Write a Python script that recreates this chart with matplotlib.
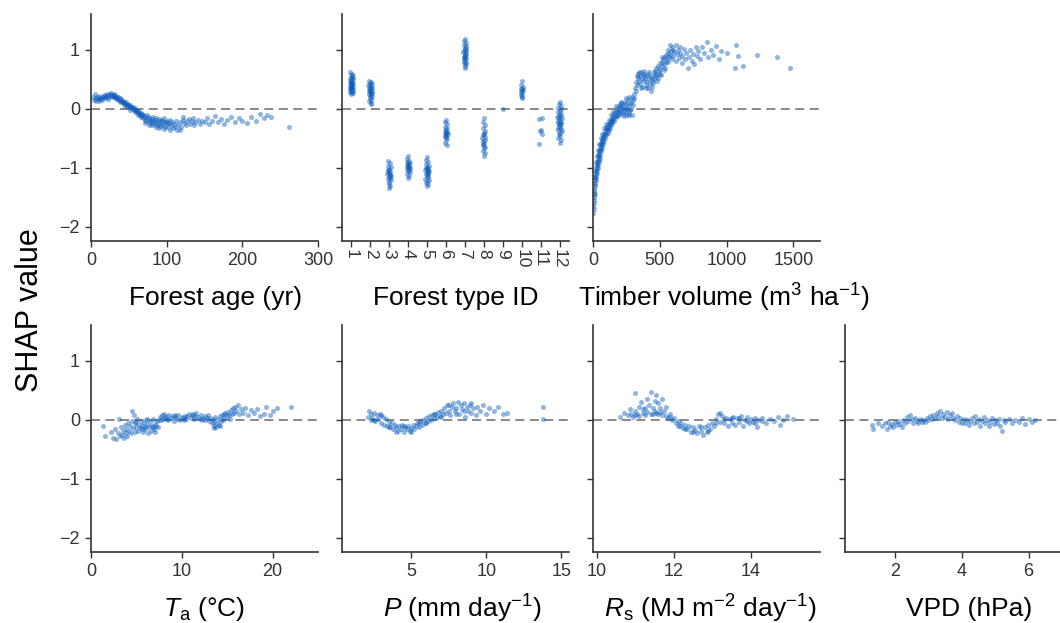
import matplotlib
matplotlib.use("Agg")
import matplotlib.pyplot as plt

plt.rcParams['font.family'] = ['Liberation Sans', 'DejaVu Sans']
plt.rcParams['mathtext.fontset'] = 'custom'
plt.rcParams['mathtext.rm'] = 'Liberation Sans'
plt.rcParams['mathtext.it'] = 'Liberation Sans:italic'

# SHAP dependence values: (feature value, SHAP value)
forest_age = [
    (3, 0.2), (4, 0.15), (5, 0.25), (6, 0.18), (7, 0.13), (8, 0.2), (9, 0.16), (10, 0.22),
    (11, 0.14), (12, 0.19), (13, 0.17), (14, 0.21), (15, 0.15), (16, 0.2), (17, 0.24), (18, 0.18),
    (19, 0.22), (20, 0.2), (21, 0.25), (22, 0.17), (23, 0.23), (24, 0.21), (25, 0.26), (26, 0.22),
    (27, 0.27), (28, 0.24), (29, 0.2), (30, 0.25), (31, 0.22), (32, 0.24), (33, 0.19), (34, 0.21),
    (35, 0.17), (36, 0.2), (37, 0.15), (38, 0.18), (39, 0.13), (40, 0.16), (41, 0.11), (42, 0.14),
    (43, 0.1), (44, 0.12), (45, 0.08), (46, 0.11), (47, 0.06), (48, 0.09), (49, 0.05), (50, 0.07),
    (51, 0.03), (52, 0.06), (53, 0.02), (54, 0.04), (55, 0.0), (56, 0.03), (57, -0.02), (58, 0.01),
    (59, -0.04), (60, -0.01), (61, -0.06), (62, -0.03), (63, -0.08), (64, -0.05), (65, -0.1),
    (66, -0.07), (67, -0.12), (68, -0.09), (69, -0.15), (70, -0.11), (71, -0.18), (72, -0.13),
    (73, -0.2), (74, -0.1), (75, -0.16), (76, -0.22), (77, -0.14), (78, -0.19), (79, -0.24),
    (80, -0.17), (81, -0.21), (82, -0.13), (83, -0.25), (84, -0.18), (85, -0.22), (86, -0.15),
    (87, -0.27), (88, -0.2), (89, -0.24), (90, -0.17), (91, -0.29), (92, -0.21), (93, -0.25),
    (94, -0.19), (95, -0.28), (96, -0.22), (97, -0.16), (98, -0.3), (99, -0.23), (100, -0.26),
    (101, -0.2), (102, -0.31), (103, -0.24), (104, -0.18), (106, -0.28), (107, -0.22), (108, -0.33),
    (110, -0.25), (112, -0.2), (113, -0.35), (115, -0.27), (117, -0.22), (119, -0.3), (121, -0.19),
    (123, -0.24), (125, -0.28), (127, -0.21), (129, -0.17), (131, -0.25), (133, -0.2), (136, -0.27),
    (138, -0.22), (141, -0.18), (144, -0.26), (147, -0.2), (150, -0.23), (153, -0.15), (156, -0.25),
    (160, -0.2), (164, -0.12), (168, -0.22), (172, -0.17), (176, -0.26), (180, -0.19), (185, -0.13),
    (190, -0.22), (195, -0.16), (200, -0.2), (206, -0.24), (212, -0.14), (218, -0.2), (224, -0.08),
    (229, -0.15), (233, -0.1), (238, -0.14), (262, -0.3),
    (30, 0.2), (34, 0.16), (38, 0.12), (44, 0.07), (48, 0.03), (52, -0.01), (58, -0.06),
    (62, -0.1), (66, -0.14), (72, -0.24), (76, -0.27), (80, -0.28), (86, -0.3), (90, -0.33),
    (96, -0.34), (105, -0.36), (111, -0.3), (118, -0.36), (122, -0.14), (135, -0.15),
]

forest_type = [
    # type 1
    (0.9, 0.62), (1.05, 0.6), (0.95, 0.57), (1.1, 0.55), (1.0, 0.53), (0.92, 0.5), (1.08, 0.5),
    (0.98, 0.48), (1.03, 0.46), (0.9, 0.45), (1.1, 0.44), (0.96, 0.42), (1.04, 0.41), (0.93, 0.39),
    (1.07, 0.38), (1.0, 0.37), (0.95, 0.35), (1.05, 0.34), (0.9, 0.33), (1.1, 0.32), (0.98, 0.31),
    (1.02, 0.29), (0.94, 0.28), (1.06, 0.27), (1.0, 0.25), (0.97, 0.44), (1.03, 0.52), (1.01, 0.4),
    (0.99, 0.36),
    # type 2
    (1.92, 0.48), (2.05, 0.46), (1.97, 0.44), (2.1, 0.42), (1.9, 0.4), (2.03, 0.38), (1.95, 0.36),
    (2.08, 0.35), (2.0, 0.33), (1.93, 0.31), (2.06, 0.3), (1.98, 0.28), (2.1, 0.27), (1.91, 0.25),
    (2.02, 0.24), (1.96, 0.22), (2.07, 0.2), (1.99, 0.18), (2.04, 0.15), (1.94, 0.13), (2.01, 0.1),
    (2.05, 0.08), (1.97, 0.34), (2.03, 0.27), (1.99, 0.41),
    # type 3
    (2.95, -0.88), (3.05, -0.92), (2.92, -0.96), (3.08, -0.99), (3.0, -1.02), (2.93, -1.04),
    (3.06, -1.06), (2.97, -1.08), (3.03, -1.1), (2.9, -1.11), (3.1, -1.13), (2.98, -1.15),
    (3.04, -1.17), (2.94, -1.19), (3.07, -1.21), (3.0, -1.24), (2.96, -1.27), (3.02, -1.3),
    (2.99, -1.34), (3.05, -1.12), (2.95, -1.05),
    # type 4
    (4.0, -0.8), (3.95, -0.85), (4.06, -0.88), (3.92, -0.9), (4.08, -0.92), (4.0, -0.94),
    (3.94, -0.96), (4.05, -0.97), (3.98, -0.99), (4.1, -1.0), (3.91, -1.02), (4.03, -1.03),
    (3.97, -1.05), (4.07, -1.07), (3.95, -1.1), (4.02, -1.13), (4.0, -1.17), (3.99, -0.93),
    (4.04, -1.0),
    # type 5
    (5.0, -0.82), (4.95, -0.87), (5.06, -0.9), (4.92, -0.94), (5.08, -0.96), (5.0, -0.98),
    (4.94, -1.0), (5.05, -1.02), (4.9, -1.04), (5.1, -1.05), (4.98, -1.07), (5.03, -1.09),
    (4.93, -1.11), (5.07, -1.12), (4.97, -1.14), (5.02, -1.16), (4.91, -1.18), (5.09, -1.2),
    (5.0, -1.22), (4.96, -1.25), (5.04, -1.28), (4.99, -1.31), (5.02, -1.05), (4.97, -1.0),
    # type 6
    (6.0, -0.18), (5.96, -0.22), (6.05, -0.26), (5.93, -0.3), (6.07, -0.32), (6.0, -0.35),
    (5.95, -0.37), (6.04, -0.39), (5.98, -0.41), (6.08, -0.43), (5.92, -0.44), (6.02, -0.46),
    (5.97, -0.48), (6.05, -0.5), (6.0, -0.53), (5.95, -0.57), (6.03, -0.61), (6.01, -0.4),
    # type 7
    (7.0, 1.18), (6.96, 1.15), (7.05, 1.12), (6.93, 1.09), (7.07, 1.06), (7.0, 1.03), (6.95, 1.0),
    (7.04, 0.98), (6.92, 0.96), (7.08, 0.94), (6.98, 0.92), (7.02, 0.9), (6.94, 0.88), (7.06, 0.86),
    (7.0, 0.84), (6.96, 0.82), (7.04, 0.8), (6.93, 0.78), (7.05, 0.76), (7.0, 0.73), (6.98, 0.7),
    (7.02, 0.95), (6.97, 0.87), (7.03, 1.01),
    # type 8
    (8.0, -0.15), (7.95, -0.22), (8.05, -0.28), (7.93, -0.33), (8.07, -0.37), (8.0, -0.4),
    (7.96, -0.44), (8.04, -0.47), (7.92, -0.5), (8.08, -0.52), (7.98, -0.55), (8.03, -0.58),
    (7.94, -0.61), (8.06, -0.64), (8.0, -0.67), (7.97, -0.71), (8.04, -0.75), (8.0, -0.79),
    (8.02, -0.43), (7.98, -0.6),
    # type 9
    (9.0, 0.0),
    # type 10
    (10.0, 0.47), (9.96, 0.4), (10.05, 0.37), (9.94, 0.34), (10.06, 0.32), (10.0, 0.3),
    (9.95, 0.28), (10.04, 0.26), (9.98, 0.24), (10.02, 0.21), (10.0, 0.18), (10.01, 0.33),
    # type 11
    (10.9, -0.17), (11.05, -0.15), (10.95, -0.38), (11.03, -0.35), (11.08, -0.42), (10.93, -0.6),
    # type 12
    (12.0, 0.12), (11.95, 0.08), (12.06, 0.05), (11.9, 0.02), (12.1, 0.0), (12.0, -0.03),
    (11.92, -0.06), (12.08, -0.08), (11.97, -0.1), (12.04, -0.12), (11.88, -0.14), (12.12, -0.16),
    (12.0, -0.18), (11.94, -0.2), (12.06, -0.22), (11.9, -0.24), (12.1, -0.26), (11.98, -0.28),
    (12.03, -0.3), (11.93, -0.32), (12.07, -0.34), (11.9, -0.36), (12.11, -0.38), (12.0, -0.4),
    (11.95, -0.43), (12.05, -0.46), (11.92, -0.5), (12.08, -0.53), (12.0, -0.57), (12.02, -0.25),
    (11.97, -0.15),
]

timber_volume = [
    (2, -1.76), (3, -1.65), (4, -1.55), (5, -1.7), (6, -1.45), (7, -1.6), (8, -1.35), (9, -1.5),
    (10, -1.25), (11, -1.4), (12, -1.3), (14, -1.2), (15, -1.45), (16, -1.15), (18, -1.28),
    (19, -1.05), (20, -1.2), (22, -1.1), (24, -0.98), (25, -1.15), (27, -1.02), (29, -0.92),
    (30, -1.08), (32, -0.95), (34, -0.85), (35, -1.0), (37, -0.88), (39, -0.78), (40, -0.95),
    (42, -0.82), (44, -0.72), (45, -0.9), (47, -0.76), (49, -0.68), (50, -0.85), (52, -0.7),
    (54, -0.62), (56, -0.78), (58, -0.65), (60, -0.58), (62, -0.72), (64, -0.6), (66, -0.52),
    (68, -0.66), (70, -0.55), (72, -0.48), (74, -0.6), (77, -0.5), (80, -0.43), (83, -0.55),
    (86, -0.45), (89, -0.38), (92, -0.5), (95, -0.4), (98, -0.33), (101, -0.45), (104, -0.36),
    (107, -0.3), (110, -0.4), (113, -0.32), (116, -0.26), (119, -0.36), (122, -0.28), (125, -0.22),
    (128, -0.32), (131, -0.25), (134, -0.19), (137, -0.28), (140, -0.2), (143, -0.15), (146, -0.24),
    (149, -0.17), (152, -0.12), (156, -0.2), (160, -0.08), (164, -0.15), (168, -0.05), (172, -0.12),
    (176, -0.02), (180, -0.1), (184, 0.02), (188, -0.06), (192, 0.05), (196, -0.03), (200, 0.08),
    (204, -0.08), (208, 0.03), (212, -0.05), (216, 0.1), (220, 0.0), (224, -0.08), (228, 0.05),
    (232, -0.03), (236, 0.12), (240, 0.02), (244, -0.06), (248, 0.08), (252, -0.1), (256, 0.0),
    (260, 0.15), (264, 0.05), (268, -0.05), (272, 0.2), (276, 0.08), (280, -0.02), (284, 0.12),
    (288, 0.0), (292, -0.1), (296, 0.06), (300, 0.15), (305, 0.25), (310, 0.18), (315, 0.35),
    (320, 0.3), (325, 0.45), (330, 0.4), (335, 0.52), (340, 0.6), (345, 0.48), (350, 0.55),
    (355, 0.42), (360, 0.62), (365, 0.5), (370, 0.38), (375, 0.58), (380, 0.47), (385, 0.65),
    (390, 0.52), (395, 0.4), (400, 0.55), (405, 0.45), (410, 0.6), (415, 0.35), (420, 0.5),
    (425, 0.42), (430, 0.56), (435, 0.3), (440, 0.48), (445, 0.53), (450, 0.44), (455, 0.58),
    (460, 0.5), (465, 0.65), (470, 0.55), (475, 0.7), (480, 0.6), (485, 0.52), (490, 0.72),
    (495, 0.64), (500, 0.78), (505, 0.68), (510, 0.58), (515, 0.8), (520, 0.72), (525, 0.85),
    (530, 0.76), (535, 0.66), (540, 0.88), (545, 0.8), (550, 0.92), (555, 0.84), (560, 0.95),
    (565, 1.0), (570, 0.88), (575, 1.08), (580, 0.92), (585, 0.98), (590, 0.85), (595, 1.05),
    (600, 0.9), (610, 0.97), (620, 0.82), (625, 1.08), (630, 0.93), (640, 1.0), (645, 0.86),
    (655, 0.95), (665, 0.78), (670, 0.9), (680, 1.02), (690, 0.85), (700, 0.95), (710, 0.7),
    (720, 0.88), (730, 1.0), (740, 0.82), (750, 0.93), (760, 0.76), (770, 1.05), (780, 0.9),
    (790, 0.98), (800, 0.85), (815, 1.05), (830, 0.95), (850, 1.14), (860, 0.88), (880, 1.0),
    (900, 0.92), (920, 1.06), (940, 0.85), (960, 0.98), (1000, 0.95), (1060, 0.69), (1074, 1.08),
    (1085, 0.9), (1120, 0.73), (1231, 0.92), (1380, 0.88), (1475, 0.69),
    (8, -1.15), (13, -1.05), (20, -0.9), (28, -0.8), (36, -0.7), (46, -0.6), (58, -0.5),
    (70, -0.42), (85, -0.32), (100, -0.25), (118, -0.18), (135, -0.1), (150, -0.05), (170, 0.05),
    (190, -0.12), (210, 0.12), (230, -0.12), (250, 0.18), (270, -0.1), (290, 0.2), (330, 0.55),
    (345, 0.62), (360, 0.35), (380, 0.6), (400, 0.36), (420, 0.62), (440, 0.38), (460, 0.62),
    (480, 0.48), (500, 0.6), (520, 0.88), (540, 0.7), (560, 0.8), (600, 1.0), (650, 1.05),
]

air_temp = [
    (1.3, -0.1), (1.5, -0.27), (2.2, -0.2), (2.4, -0.3), (2.6, -0.15), (2.8, -0.33), (3.0, -0.22),
    (3.1, 0.02), (3.2, -0.28), (3.3, -0.12), (3.4, -0.25), (3.5, -0.18), (3.6, -0.3), (3.7, -0.08),
    (3.8, -0.22), (3.9, -0.15), (4.0, -0.27), (4.1, -0.05), (4.2, -0.18), (4.3, -0.1), (4.4, -0.22),
    (4.5, 0.15), (4.5, -0.02), (4.6, -0.14), (4.7, 0.08), (4.8, -0.2), (4.9, -0.06), (5.0, -0.12),
    (5.1, 0.02), (5.2, -0.18), (5.3, -0.08), (5.4, -0.14), (5.5, -0.02), (5.6, -0.1), (5.7, -0.2),
    (5.8, -0.05), (5.9, -0.12), (6.0, -0.16), (6.1, 0.0), (6.2, -0.08), (6.3, -0.22), (6.4, -0.12),
    (6.5, -0.04), (6.6, -0.18), (6.7, -0.1), (6.8, 0.02), (6.9, -0.15), (7.0, -0.07), (7.1, -0.2),
    (7.2, -0.1), (7.3, -0.02), (7.4, -0.12), (7.5, 0.0), (7.6, 0.05), (7.8, 0.08), (7.9, 0.02),
    (8.0, 0.1), (8.2, 0.04), (8.3, 0.07), (8.5, 0.0), (8.6, 0.09), (8.8, 0.03), (9.0, 0.06),
    (9.1, -0.02), (9.3, 0.05), (9.5, 0.02), (9.6, 0.08), (9.8, 0.0), (10.0, 0.05), (10.1, 0.03),
    (10.3, 0.07), (10.5, 0.01), (10.6, 0.06), (10.8, 0.1), (11.0, 0.04), (11.1, 0.08), (11.3, 0.02),
    (11.5, 0.07), (11.6, 0.12), (11.8, 0.05), (12.0, 0.02), (12.1, 0.08), (12.3, 0.04), (12.5, 0.0),
    (12.6, 0.06), (12.8, 0.03), (13.0, -0.02), (13.1, 0.04), (13.3, -0.06), (13.4, 0.02),
    (13.5, -0.1), (13.6, -0.03), (13.7, 0.05), (13.8, -0.12), (13.9, -0.05), (14.0, 0.02),
    (14.1, -0.08), (14.2, 0.06), (14.3, -0.02), (14.4, 0.08), (14.5, 0.0), (14.6, 0.1), (14.7, 0.04),
    (14.8, 0.12), (15.0, 0.06), (15.1, 0.14), (15.2, 0.08), (15.4, 0.16), (15.5, 0.1), (15.6, 0.2),
    (15.8, 0.12), (15.9, 0.22), (16.0, 0.15), (16.2, 0.25), (16.3, 0.1), (16.5, 0.18), (16.7, 0.12),
    (17.0, 0.2), (17.3, 0.08), (17.6, 0.16), (18.0, 0.12), (18.3, 0.18), (18.6, 0.06), (19.0, 0.1),
    (19.3, 0.22), (19.7, 0.08), (20.0, 0.15), (20.5, 0.2), (22.0, 0.22),
    (5.0, -0.04), (5.6, -0.16), (6.2, 0.02), (6.8, -0.12), (7.7, 0.0), (8.4, 0.02), (9.2, 0.09),
    (10.2, 0.0), (11.2, 0.1), (12.2, 0.0), (12.9, 0.08), (13.6, -0.14), (14.2, -0.1), (15.3, 0.02),
]

precipitation = [
    (2.1, 0.05), (2.2, 0.15), (2.3, 0.0), (2.3, 0.1), (2.4, 0.03), (2.5, 0.12), (2.6, -0.02),
    (2.7, 0.08), (2.8, 0.02), (2.9, 0.1), (3.0, -0.05), (3.1, 0.05), (3.2, -0.08), (3.3, 0.02),
    (3.4, -0.1), (3.5, -0.03), (3.6, -0.12), (3.7, -0.06), (3.8, -0.15), (3.9, -0.08), (4.0, -0.12),
    (4.1, -0.18), (4.2, -0.1), (4.3, -0.15), (4.4, -0.08), (4.5, -0.2), (4.6, -0.12), (4.7, -0.16),
    (4.8, -0.1), (4.9, -0.19), (5.0, -0.13), (5.1, -0.08), (5.2, -0.15), (5.3, -0.1), (5.4, -0.05),
    (5.5, -0.12), (5.6, -0.02), (5.7, -0.08), (5.8, 0.0), (5.9, -0.05), (6.0, 0.03), (6.1, -0.02),
    (6.2, 0.06), (6.3, 0.0), (6.4, 0.08), (6.5, 0.03), (6.6, 0.1), (6.7, 0.05), (6.8, 0.13),
    (6.9, 0.07), (7.0, 0.15), (7.1, 0.1), (7.2, 0.2), (7.3, 0.12), (7.4, 0.25), (7.5, 0.15),
    (7.6, 0.08), (7.7, 0.22), (7.8, 0.28), (7.9, 0.15), (8.0, 0.2), (8.1, 0.3), (8.2, 0.1),
    (8.3, 0.25), (8.4, 0.18), (8.5, 0.28), (8.6, 0.05), (8.7, 0.22), (8.8, 0.15), (8.9, 0.26),
    (9.0, 0.12), (9.1, 0.2), (9.3, 0.08), (9.4, 0.22), (9.6, 0.15), (9.8, 0.25), (10.0, 0.1),
    (10.2, 0.2), (10.5, 0.15), (10.8, 0.22), (11.1, 0.1), (11.4, 0.12), (13.8, 0.22), (13.8, 0.02),
    (2.5, 0.0), (3.0, 0.08), (3.5, -0.12), (4.0, -0.2), (4.5, -0.1), (5.0, -0.2), (5.5, -0.06),
    (6.0, -0.06), (6.5, 0.1), (7.0, 0.05), (7.5, 0.25), (8.0, 0.1), (8.5, 0.15), (9.0, 0.28),
]

solar_rad = [
    (10.6, 0.05), (10.7, 0.12), (10.8, 0.08), (10.85, 0.18), (10.9, 0.1), (10.95, 0.05),
    (11.0, 0.15), (11.0, 0.45), (11.05, 0.1), (11.1, 0.22), (11.1, 0.06), (11.15, 0.3),
    (11.2, 0.12), (11.2, 0.18), (11.25, 0.08), (11.3, 0.35), (11.3, 0.14), (11.35, 0.25),
    (11.4, 0.1), (11.4, 0.48), (11.45, 0.2), (11.5, 0.15), (11.5, 0.32), (11.55, 0.12),
    (11.55, 0.42), (11.6, 0.28), (11.6, 0.1), (11.65, 0.2), (11.7, 0.08), (11.7, 0.35),
    (11.75, 0.15), (11.8, 0.06), (11.8, 0.22), (11.85, 0.04), (11.9, 0.1), (11.95, 0.0),
    (12.0, 0.03), (12.05, -0.05), (12.1, -0.02), (12.15, -0.1), (12.2, -0.06), (12.25, -0.14),
    (12.3, -0.08), (12.35, -0.16), (12.4, -0.1), (12.45, -0.2), (12.5, -0.12), (12.55, -0.17),
    (12.6, -0.22), (12.65, -0.1), (12.7, -0.18), (12.75, -0.25), (12.8, -0.12), (12.85, -0.2),
    (12.9, -0.08), (12.95, -0.15), (13.0, -0.05), (13.05, -0.1), (13.1, 0.02), (13.15, 0.1),
    (13.2, -0.03), (13.2, 0.12), (13.25, 0.06), (13.3, -0.06), (13.35, 0.04), (13.4, -0.1),
    (13.45, 0.02), (13.5, -0.05), (13.55, 0.05), (13.6, -0.08), (13.65, 0.03), (13.7, -0.03),
    (13.75, 0.06), (13.8, -0.1), (13.85, 0.0), (13.9, 0.05), (13.95, -0.06), (14.0, 0.02),
    (14.05, -0.04), (14.1, 0.04), (14.15, -0.12), (14.2, 0.0), (14.3, 0.03), (14.4, -0.05),
    (14.5, 0.02), (14.6, -0.02), (14.7, 0.05), (14.75, -0.08), (14.85, 0.0), (14.95, 0.06),
    (15.1, 0.02),
    (11.0, 0.08), (11.25, 0.2), (11.45, 0.1), (11.65, 0.13), (11.9, 0.05), (12.1, -0.1),
    (12.3, -0.15), (12.5, -0.2), (12.7, -0.12), (12.9, -0.18), (13.1, -0.05), (13.3, 0.02),
    (13.5, 0.03), (13.7, 0.04), (13.9, -0.02), (14.1, -0.06), (14.3, -0.02),
]

vpd = [
    (1.3, -0.08), (1.35, -0.15), (1.5, -0.05), (1.6, -0.1), (1.7, -0.06), (1.75, -0.15),
    (1.8, -0.03), (1.85, -0.1), (1.9, -0.07), (1.95, -0.12), (2.0, -0.04), (2.05, -0.09),
    (2.1, -0.02), (2.15, -0.07), (2.2, -0.12), (2.25, 0.0), (2.3, -0.05), (2.35, 0.05),
    (2.4, -0.02), (2.45, 0.08), (2.5, 0.02), (2.55, -0.05), (2.6, 0.04), (2.65, -0.02),
    (2.7, -0.06), (2.75, 0.02), (2.8, -0.04), (2.85, 0.0), (2.9, -0.03), (2.95, 0.03), (3.0, 0.0),
    (3.05, 0.06), (3.1, 0.02), (3.15, 0.09), (3.2, 0.04), (3.25, 0.12), (3.3, 0.06), (3.35, 0.15),
    (3.4, 0.03), (3.45, 0.1), (3.5, 0.05), (3.55, 0.13), (3.6, 0.02), (3.65, 0.09), (3.7, 0.12),
    (3.75, 0.04), (3.8, 0.0), (3.85, 0.06), (3.9, -0.03), (3.95, 0.03), (4.0, -0.05), (4.05, 0.02),
    (4.1, -0.06), (4.15, 0.0), (4.2, -0.08), (4.25, -0.02), (4.3, 0.04), (4.35, -0.05), (4.4, 0.06),
    (4.45, -0.03), (4.5, 0.02), (4.55, -0.1), (4.6, -0.02), (4.65, 0.05), (4.7, -0.06), (4.75, 0.0),
    (4.8, -0.1), (4.85, -0.03), (4.9, 0.03), (4.95, -0.07), (5.0, 0.0), (5.05, -0.05), (5.1, 0.02),
    (5.15, -0.1), (5.2, -0.18), (5.25, 0.0), (5.3, -0.04), (5.4, 0.02), (5.5, -0.06), (5.6, 0.0),
    (5.7, -0.03), (5.8, 0.03), (5.9, -0.07), (6.0, 0.02), (6.1, -0.04), (6.2, 0.0),
]

type_ids = list(range(1, 13))

# panel setup: (data, xlabel, xlim, xticks, left px, top px, label x in axes coords)
panels = [
    (forest_age, "Forest age (yr)", (0, 300), [0, 100, 200, 300], 91, 14, 0.55),
    (forest_type, "Forest type ID", (0.5, 12.5), type_ids, 342, 14, 0.5),
    (timber_volume, r"Timber volume (m$^3$ ha$^{\mathrm{-1}}$)", (0, 1700), [0, 500, 1000, 1500], 593, 14, 0.575),
    (air_temp, r"$T_\mathrm{a}$ (°C)", (0, 25), [0, 10, 20], 91, 325, 0.5),
    (precipitation, r"$P$ (mm day$^{\mathrm{-1}}$)", (0.4, 15.5), [5, 10, 15], 342, 325, 0.53),
    (solar_rad, r"$R_\mathrm{s}$ (MJ m$^{\mathrm{-2}}$ day$^{\mathrm{-1}}$)", (9.9, 15.8), [10, 12, 14], 593, 325, 0.515),
    (vpd, "VPD (hPa)", (0.5, 7.3), [2, 4, 6], 845, 325, 0.545),
]

W, H = 1060, 623
fig = plt.figure(figsize=(W / 100, H / 100), dpi=100)

dot_color = '#0a5cbc'
axis_color = '#333333'

for pts, label, xlim, xticks, left, top, label_x in panels:
    ax = fig.add_axes([left / W, 1 - (top + 227) / H, 227 / W, 227 / H])
    xs = [p[0] for p in pts]
    ys = [p[1] for p in pts]
    ax.axhline(0, color='#808080', lw=1.3, ls=(0, (5, 3)), zorder=1)
    ax.scatter(xs, ys, s=13, color=dot_color, alpha=0.45, linewidths=0, zorder=2)
    ax.set_xlim(*xlim)
    ax.set_ylim(-2.24, 1.61)
    ax.set_xticks(xticks)
    ax.set_yticks([-2, -1, 0, 1])
    for side in ['top', 'right']:
        ax.spines[side].set_visible(False)
    for side in ['left', 'bottom']:
        ax.spines[side].set_color(axis_color)
        ax.spines[side].set_linewidth(1.2)
    ax.tick_params(direction='out', length=4, width=1, color=axis_color,
                   labelcolor=axis_color, labelsize=13, pad=4)
    if left != 91:
        ax.set_yticklabels([])
    if label == "Forest type ID":
        ax.set_xticklabels([str(t) for t in type_ids], rotation=270, fontsize=12.5)
        ax.tick_params(axis='x', pad=2)
    ax.set_xlabel(label, fontsize=19, va='center')
    ax.xaxis.set_label_coords(label_x, -0.25)

fig.text(30 / W, 1 - 310 / H, "SHAP value", rotation=90, fontsize=22,
         ha='center', va='center')

fig.savefig("out.png", dpi=100)
